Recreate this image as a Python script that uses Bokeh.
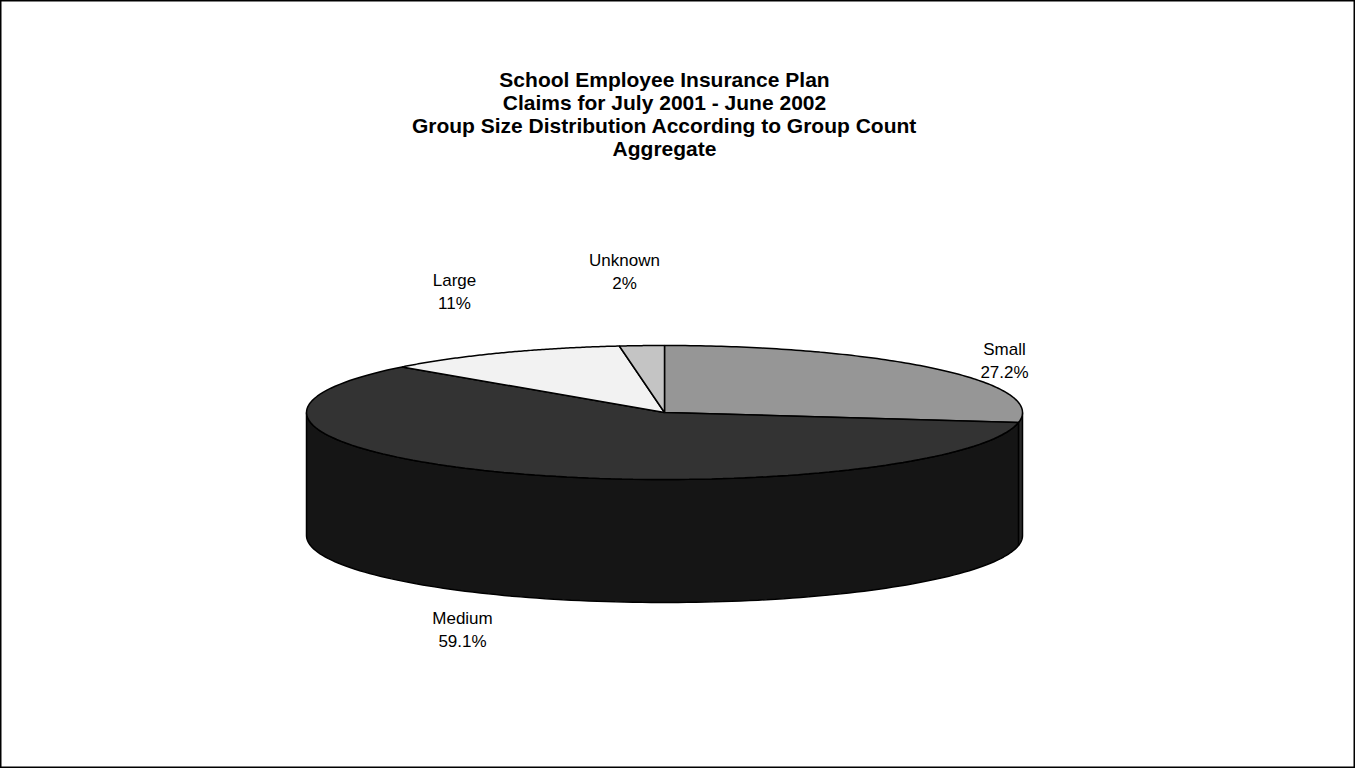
import numpy as np
from bokeh.plotting import figure
from bokeh.models import Range1d
from bokeh.embed import file_html
from bokeh.resources import INLINE
from bokeh.core.properties import value

# ---- data ----
categories = ["Small", "Medium", "Large", "Unknown"]
percents = [27.2, 59.1, 11.0, 2.0]
pct_labels = ["27.2%", "59.1%", "11%", "2%"]
title_lines = [
    "School Employee Insurance Plan",
    "Claims for July 2001 - June 2002",
    "Group Size Distribution According to Group Count",
    "Aggregate",
]

# ---- style / layout ----
top_colors = ["#969696", "#333333", "#f2f2f2", "#c4c4c4"]
side_colors = ["#2a2a2a", "#151515", "#b0b0b0", "#8a8a8a"]
label_pos = {  # (x, y) of name line, in figure pixels
    "Small": (1004, 349),
    "Medium": (462, 618),
    "Large": (454, 280),
    "Unknown": (624, 260),
}
FONT = "Liberation Sans"

W, H = 1355, 768
cx, cy, rx, ry, depth = 664, 412, 358, 67, 123

p = figure(width=W, height=H, x_range=Range1d(0, W), y_range=Range1d(H, 0),
           output_backend="svg", toolbar_location=None, min_border=0)
p.axis.visible = False
p.grid.visible = False
p.outline_line_color = "black"
p.outline_line_width = 2
p.background_fill_color = "white"
p.border_fill_color = "white"

total = float(sum(percents))
cum = np.concatenate([[0.0], np.cumsum(percents)]) / total
a_start = 90.0 - 360.0 * cum[:-1]
a_end = 90.0 - 360.0 * cum[1:]


def arc(t0, t1, dy=0.0, n=120):
    t = np.radians(np.linspace(t0, t1, n))
    return list(cx + rx * np.cos(t)), list(cy - ry * np.sin(t) + dy)


# sides (visible front half: angles between -180 and 0, mod 360)
sx, sy, sc = [], [], []
for i in range(len(categories)):
    hi, lo = a_start[i], a_end[i]
    for k in (-360.0, 0.0, 360.0):
        v0, v1 = -180.0 + k, 0.0 + k
        s, e = max(lo, v0), min(hi, v1)
        if e > s:
            tx, ty = arc(e, s)
            bx, by = arc(s, e, depth)
            sx.append(tx + bx)
            sy.append(ty + by)
            sc.append(side_colors[i])
p.patches(sx, sy, fill_color=sc, line_color="black", line_width=1.5)

# top faces
tx_all, ty_all = [], []
for i in range(len(categories)):
    ax, ay = arc(a_start[i], a_end[i])
    tx_all.append([cx] + ax)
    ty_all.append([cy] + ay)
p.patches(tx_all, ty_all, fill_color=top_colors, line_color="black", line_width=1.5)

# labels
lx, ly, lt = [], [], []
for name, pct in zip(categories, pct_labels):
    x0, y0 = label_pos[name]
    lx += [x0, x0]
    ly += [y0, y0 + 23]
    lt += [name, pct]
p.text(lx, ly, text=lt, text_align="center", text_baseline="middle",
       text_font=value(FONT), text_font_size="17px", text_color="black")

# title
p.text([cx] * len(title_lines), [79 + 23 * i for i in range(len(title_lines))],
       text=title_lines, text_align="center", text_baseline="middle",
       text_font=value(FONT), text_font_size="21px", text_font_style="bold",
       text_color="black")

open("out.html", "w").write(file_html(p, INLINE))
